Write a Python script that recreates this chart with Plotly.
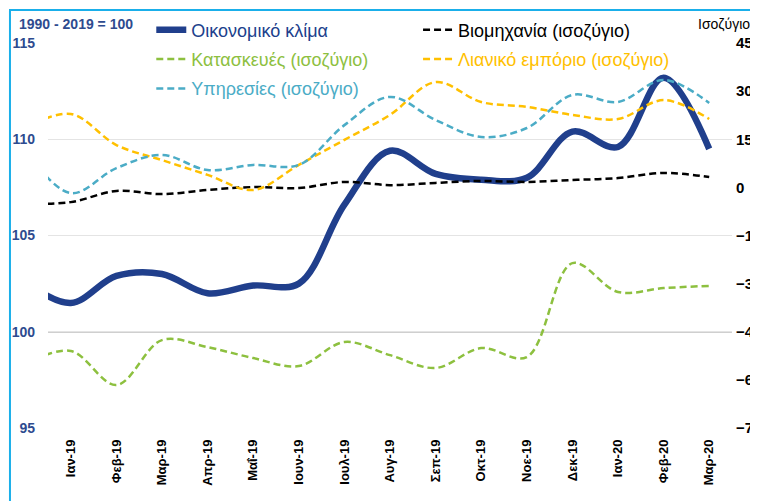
import plotly.graph_objects as go

months = ["Δεκ-18", "Ιαν-19", "Φεβ-19", "Μαρ-19", "Απρ-19", "Μαΐ-19", "Ιουν-19", "Ιουλ-19",
          "Αυγ-19", "Σεπ-19", "Οκτ-19", "Νοε-19", "Δεκ-19", "Ιαν-20", "Φεβ-20", "Μαρ-20"]

climate = [102.6, 101.5, 102.9, 103.0, 102.0, 102.4, 102.5, 106.6, 109.4, 108.2, 107.9, 108.0,
           110.4, 109.6, 113.2, 109.5]
industry = [-5.2, -4.6, -1.1, -2.1, -0.8, 0.1, -0.2, 1.7, 0.7, 1.4, 2.0, 1.7, 2.3, 2.9, 4.5, 3.2]
construction = [-55.0, -51.0, -61.6, -47.6, -49.8, -53.2, -55.7, -48.2, -52.3, -56.3, -50.1,
                -52.9, -23.6, -32.6, -31.4, -30.7]
retail = [18.5, 22.9, 13.2, 8.5, 3.9, -0.8, 7.0, 14.8, 22.6, 32.8, 26.6, 25.1, 22.6, 21.3,
          27.2, 21.3]
services = [11.6, -1.8, 6.0, 10.1, 5.4, 7.0, 7.0, 19.4, 28.2, 21.0, 15.7, 18.5, 28.8, 26.6,
            33.5, 26.3]

left_ticks = [95, 100, 105, 110, 115]
right_ticks = [-75, -60, -45, -30, -15, 0, 15, 30, 45]

NAVY = "#203F8C"
GREEN = "#8DC03F"
ORANGE = "#FFC000"
AQUA = "#4BACC6"
LABEL_BLUE = "#2E4B8F"
FONT = "Arial, Liberation Sans, sans-serif"

fig = go.Figure()

def lbl(text, color):
    return f'<span style="color:{color}">{text}</span>'

DASH = "7px,4px"
fig.add_trace(go.Scatter(x=months, y=climate, mode="lines", name=lbl("Οικονομικό κλίμα", NAVY),
                         legend="legend", legendgroup="a",
                         line=dict(color=NAVY, width=6.5, shape="spline", smoothing=1.0)))
fig.add_trace(go.Scatter(x=months, y=industry, mode="lines", yaxis="y2",
                         name=lbl("Βιομηχανία (ισοζύγιο)", "#000000"),
                         legend="legend2", legendgroup="b",
                         line=dict(color="#000000", width=2.5, dash=DASH, shape="spline")))
fig.add_trace(go.Scatter(x=months, y=construction, mode="lines", yaxis="y2",
                         name=lbl("Κατασκευές (ισοζύγιο)", GREEN),
                         legend="legend", legendgroup="c",
                         line=dict(color=GREEN, width=2.5, dash=DASH, shape="spline")))
fig.add_trace(go.Scatter(x=months, y=retail, mode="lines", yaxis="y2",
                         name=lbl("Λιανικό εμπόριο (ισοζύγιο)", ORANGE),
                         legend="legend2", legendgroup="d",
                         line=dict(color=ORANGE, width=2.5, dash=DASH, shape="spline")))
fig.add_trace(go.Scatter(x=months, y=services, mode="lines", yaxis="y2",
                         name=lbl("Υπηρεσίες (ισοζύγιο)", AQUA),
                         legend="legend", legendgroup="e",
                         line=dict(color=AQUA, width=2.5, dash=DASH, shape="spline")))

legend_common = dict(orientation="v", xanchor="left", yanchor="top", y=1.082,
                     bgcolor="rgba(0,0,0,0)", font=dict(size=18, family=FONT),
                     tracegroupgap=3, itemwidth=30, traceorder="grouped")

# page body has an 8px default margin, so the figure is 8px smaller and shifted
fig.update_layout(
    width=750, height=493,
    margin=dict(l=40, r=26, t=35, b=73, pad=0, autoexpand=False),
    paper_bgcolor="white", plot_bgcolor="white",
    font=dict(family=FONT),
    showlegend=True,
    legend=dict(x=0.151, **legend_common),
    legend2=dict(x=0.541, **legend_common),
    xaxis=dict(type="category", categoryorder="array", categoryarray=months,
               range=[0.5, 15.5], showgrid=False, showline=False, zeroline=False,
               automargin=False,
               tickangle=-90, tickfont=dict(size=13, color="#000000", family=FONT, weight="bold"),
               ticks="", ticklabelstandoff=8),
    yaxis=dict(range=[95, 115], tickvals=left_ticks, showgrid=True, gridcolor="#E4E4E4",
               gridwidth=1, zeroline=False, showline=False, ticks="", automargin=False,
               tickfont=dict(size=14, color=LABEL_BLUE, family=FONT, weight="bold"),
               ticklabelstandoff=12),
    yaxis2=dict(range=[-75, 45], tickvals=right_ticks, overlaying="y", side="right",
                showgrid=False, zeroline=False, showline=False, ticks="", automargin=False,
                tickfont=dict(size=15, color="#000000", family=FONT, weight="bold"),
                ticklabelstandoff=3),
    shapes=[
        dict(type="line", xref="paper", yref="y", x0=0, x1=1, y0=100, y1=100,
             line=dict(color="#A0A0A0", width=1.5), layer="below"),
        dict(type="rect", xref="paper", yref="paper", x0=-0.0556, x1=1.3, y0=-0.5, y1=1.0857,
             line=dict(color="#1AAFEA", width=2), fillcolor="rgba(0,0,0,0)"),
    ],
    annotations=[
        dict(text="<b>1990 - 2019 = 100</b>", xref="paper", yref="paper", x=-0.046, y=1.05,
             xanchor="left", yanchor="middle", showarrow=False,
             font=dict(size=14, color=LABEL_BLUE, family=FONT)),
        dict(text="Ισοζύγιο", xref="paper", yref="paper", x=0.947, y=1.05,
             xanchor="left", yanchor="middle", showarrow=False,
             font=dict(size=14, color="#000000", family=FONT)),
    ],
)

fig.write_html("out.html")
